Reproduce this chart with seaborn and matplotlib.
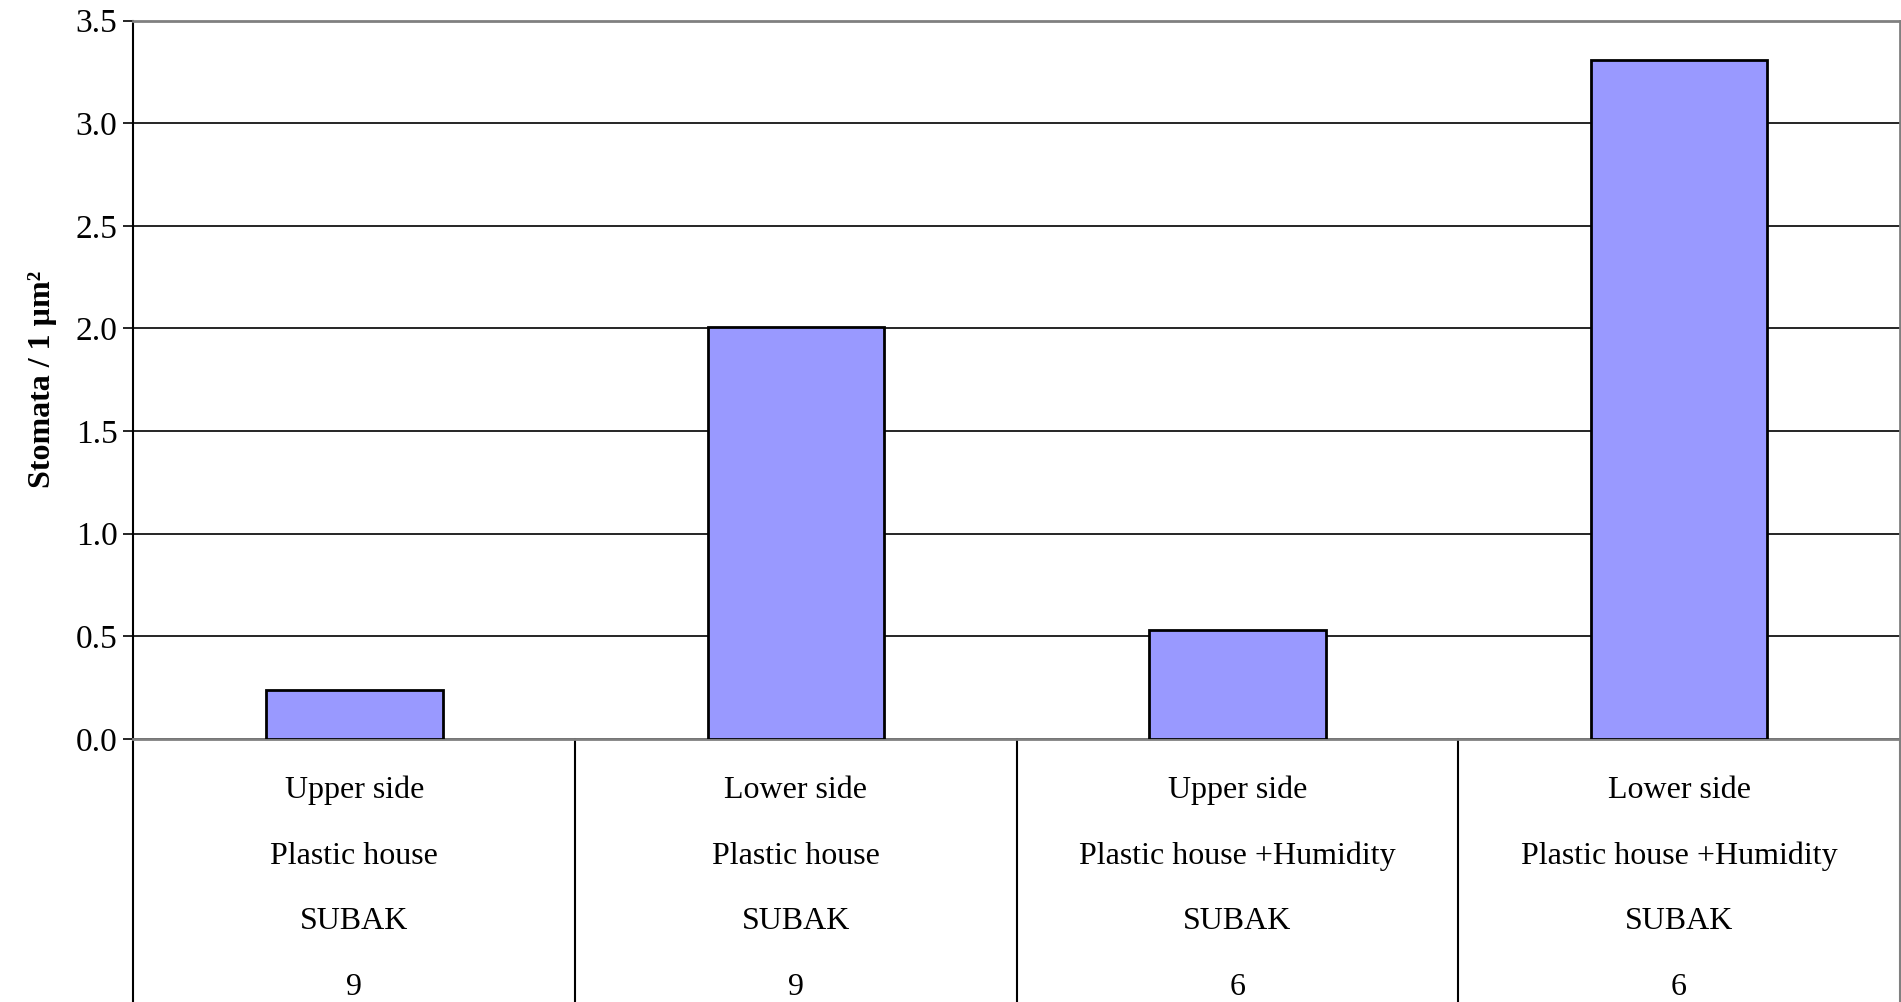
import matplotlib
matplotlib.use("Agg")
import matplotlib.pyplot as plt
import matplotlib.transforms as mtransforms
import pandas as pd
import seaborn as sns

# Data
leaf_side = ["Upper side", "Lower side", "Upper side", "Lower side"]
treatment = ["Plastic house", "Plastic house", "Plastic house +Humidity", "Plastic house +Humidity"]
variety = ["SUBAK", "SUBAK", "SUBAK", "SUBAK"]
n_samples = ["9", "9", "6", "6"]
stomata = [0.24, 2.005, 0.53, 3.31]
y_ticks = [0.0, 0.5, 1.0, 1.5, 2.0, 2.5, 3.0, 3.5]

df = pd.DataFrame({"group": [f"g{i}" for i in range(len(stomata))], "value": stomata})

sns.set_style("white")
plt.rcParams["font.family"] = ["Liberation Serif", "DejaVu Serif"]
plt.rcParams["text.color"] = "black"
plt.rcParams["axes.labelcolor"] = "black"
plt.rcParams["ytick.color"] = "black"

fig = plt.figure(figsize=(19.01, 10.02), dpi=100)
ax = fig.add_axes([0.0702, 0.2625, 0.9292, 0.7170])

sns.barplot(data=df, x="group", y="value", color="#9999FF", saturation=1,
            edgecolor="black", linewidth=2, width=0.4, ax=ax, zorder=3)

ax.set_xlim(-0.5, 3.5)
ax.set_ylim(0, 3.5)
ax.set_yticks(y_ticks)
ax.set_yticklabels([f"{t:.1f}" for t in y_ticks], fontsize=24)
ax.yaxis.grid(True, color="black", linewidth=1.2, zorder=0)
ax.set_axisbelow(True)
ax.tick_params(axis="y", direction="out", length=7.5, width=1.2, color="black", left=True, pad=4)
ax.set_xticks([])
ax.set_xlabel("")
ax.set_ylabel("Stomata / 1 µm²", fontsize=23, fontweight="bold")
ax.yaxis.set_label_coords(-0.043, 0.5)

for side in ["top", "right", "bottom"]:
    ax.spines[side].set_color("#808080")
    ax.spines[side].set_linewidth(2)
ax.spines["left"].set_color("black")
ax.spines["left"].set_linewidth(1.5)

# Category table under the axis
trans = mtransforms.blended_transform_factory(ax.transData, ax.transAxes)
bottom = -0.37
for k in range(len(stomata) + 1):
    x = k - 0.5
    col = "#808080" if k == len(stomata) else "black"
    ax.plot([x, x], [0, bottom], color=col, linewidth=1.5, transform=trans, clip_on=False)

rows = [leaf_side, treatment, variety, n_samples]
row_y = [-0.0719, -0.1631, -0.2543, -0.3455]
for labels, y in zip(rows, row_y):
    for i, lab in enumerate(labels):
        ax.text(i, y, lab, transform=trans, ha="center", va="center", fontsize=23)

fig.savefig("out.png", dpi=100)
